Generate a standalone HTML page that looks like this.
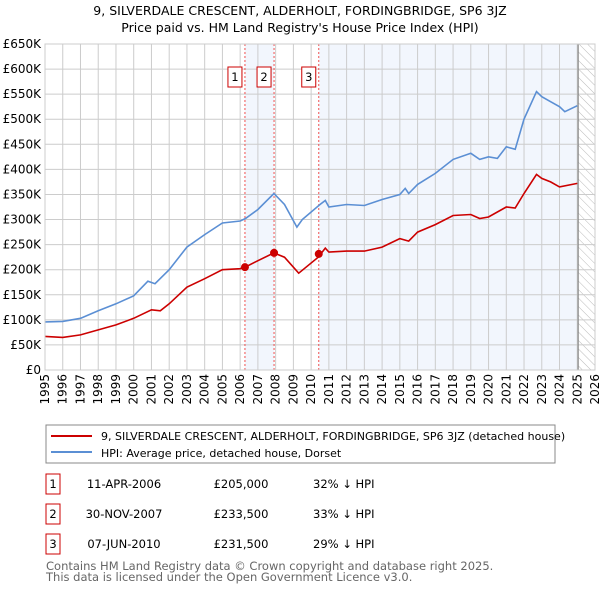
<!DOCTYPE html>
<html><head><meta charset="utf-8"><style>
body{margin:0;background:#fff;font-family:"Liberation Sans","DejaVu Sans",sans-serif;}
</style></head><body>
<svg width="600" height="590" viewBox="0 0 600 590" xmlns="http://www.w3.org/2000/svg" font-family="DejaVu Sans, Liberation Sans, sans-serif">
<text x="300" y="15" text-anchor="middle" font-size="12.5">9, SILVERDALE CRESCENT, ALDERHOLT, FORDINGBRIDGE, SP6 3JZ</text>
<text x="300" y="32" text-anchor="middle" font-size="12.5">Price paid vs. HM Land Registry's House Price Index (HPI)</text>
<g id="plot"></g>
<g>
<rect x="46" y="425" width="509" height="38" fill="#fff" stroke="#888"/>
<line x1="51" y1="436" x2="92" y2="436" stroke="#cc0000" stroke-width="2"/>
<text x="101" y="440" font-size="11">9, SILVERDALE CRESCENT, ALDERHOLT, FORDINGBRIDGE, SP6 3JZ (detached house)</text>
<line x1="51" y1="452" x2="92" y2="452" stroke="#5b8fd4" stroke-width="2"/>
<text x="101" y="457" font-size="11">HPI: Average price, detached house, Dorset</text>
</g>
<g font-size="11.5">
<rect x="46" y="474" width="14" height="20" fill="#fff" stroke="#cc0000"/><text x="53" y="488" text-anchor="middle">1</text>
<text x="124" y="488" text-anchor="middle">11-APR-2006</text><text x="241" y="488" text-anchor="middle">£205,000</text><text x="313" y="488">32% ↓ HPI</text>
<rect x="46" y="504" width="14" height="20" fill="#fff" stroke="#cc0000"/><text x="53" y="518" text-anchor="middle">2</text>
<text x="124" y="518" text-anchor="middle">30-NOV-2007</text><text x="241" y="518" text-anchor="middle">£233,500</text><text x="313" y="518">33% ↓ HPI</text>
<rect x="46" y="534" width="14" height="20" fill="#fff" stroke="#cc0000"/><text x="53" y="548" text-anchor="middle">3</text>
<text x="124" y="548" text-anchor="middle">07-JUN-2010</text><text x="241" y="548" text-anchor="middle">£231,500</text><text x="313" y="548">29% ↓ HPI</text>
</g>
<text x="46" y="570" font-size="11.5" fill="#666">Contains HM Land Registry data © Crown copyright and database right 2025.</text>
<text x="46" y="581" font-size="11.5" fill="#666">This data is licensed under the Open Government Licence v3.0.</text>
</svg>
<script>
const hpiYears=[1995,1996,1997,1998,1999,2000,2000.8,2001.2,2002,2003,2004,2005,2006,2006.3,2007,2007.9,2008.5,2009.2,2009.5,2010.5,2010.8,2011,2012,2013,2014,2015,2015.3,2015.5,2016,2017,2018,2019,2019.5,2020,2020.5,2021,2021.5,2022,2022.7,2023,2023.5,2024,2024.3,2025];
const hpiValues=[96,97,103,118,132,148,177,172,200,245,270,293,297,302,320,352,330,285,300,330,338,325,330,328,340,350,362,352,370,392,420,432,420,425,422,445,440,500,555,545,535,525,515,527];
const ppYears=[1995,1996,1997,1998,1999,2000,2001,2001.5,2002,2003,2004,2005,2006,2006.27,2007,2007.9,2008.5,2009.3,2010.4,2010.8,2011,2012,2013,2014,2015,2015.5,2016,2017,2018,2019,2019.5,2020,2021,2021.5,2022,2022.7,2023,2023.5,2024,2025];
const ppValues=[67,65,70,80,90,103,120,118,132,165,182,200,202,205,218,233.5,225,193,225,243,235,237,237,245,262,257,275,290,308,310,302,305,325,323,352,390,382,375,365,372];
const saleLabels=["1","2","3"];
const saleYears=[2006.27,2007.91,2010.43];
const saleValues=[205,233.5,231.5];
const yTicks=[0,50,100,150,200,250,300,350,400,450,500,550,600,650];
const yTickLabels=["£0","£50K","£100K","£150K","£200K","£250K","£300K","£350K","£400K","£450K","£500K","£550K","£600K","£650K"];
const xTicks=[1995,1996,1997,1998,1999,2000,2001,2002,2003,2004,2005,2006,2007,2008,2009,2010,2011,2012,2013,2014,2015,2016,2017,2018,2019,2020,2021,2022,2023,2024,2025,2026];
const dataEnd=2025.05;

const L=45,R=595,T=44,B=370,NS="http://www.w3.org/2000/svg";
const X=y=>L+(y-1995)/(2026-1995)*(R-L);
const Y=v=>B-v/650*(B-T);
const g=document.getElementById('plot');
function el(t,a,p){const e=document.createElementNS(NS,t);for(const k in a)e.setAttribute(k,a[k]);(p||g).appendChild(e);return e;}
const defs=el('defs',{});
const pat=el('pattern',{id:'hatch',width:6,height:6,patternUnits:'userSpaceOnUse',patternTransform:'rotate(-45)'},defs);
el('line',{x1:0,y1:0,x2:0,y2:6,stroke:'#bbb','stroke-width':1},pat);
let s=el('rect',{x:X(saleYears[0]),y:T,width:X(saleYears[1])-X(saleYears[0]),height:B-T,fill:'#f2f6fd'});

s=el('rect',{x:X(saleYears[2]),y:T,width:X(dataEnd)-X(saleYears[2]),height:B-T,fill:'#f2f6fd'});

s=el('rect',{x:X(dataEnd),y:T,width:R-X(dataEnd),height:B-T,fill:'url(#hatch)'});

yTicks.forEach((v,i)=>{el('line',{x1:L,x2:R,y1:Y(v),y2:Y(v),stroke:'#ccc'});
 const t=el('text',{x:L-4,y:Y(v)+4,'text-anchor':'end','font-size':12});t.textContent=yTickLabels[i];
 });
xTicks.forEach(v=>{el('line',{x1:X(v),x2:X(v),y1:T,y2:B,stroke:'#ccc'});
 const t=el('text',{x:X(v)+4,y:B+4,'text-anchor':'end','font-size':12,transform:`rotate(-90 ${X(v)+4} ${B+4})`});t.textContent=v;
 });
el('line',{x1:X(dataEnd),x2:X(dataEnd),y1:T,y2:B,stroke:'#888','stroke-width':1.2});
saleYears.forEach((yr,i)=>{el('line',{x1:X(yr),x2:X(yr),y1:T,y2:B,stroke:'#f05050','stroke-dasharray':'2,2'});
 const r=el('rect',{x:X(yr)-17,y:67,width:14,height:20,fill:'#fff',stroke:'#cc0000'});
 
 const t=el('text',{x:X(yr)-10,y:81,'text-anchor':'middle','font-size':11.5});t.textContent=saleLabels[i];});
function line(xs,vs,c,n){const p=el('path',{d:xs.map((x,i)=>(i?'L':'M')+X(x).toFixed(1)+','+Y(vs[i]).toFixed(1)).join(''),fill:'none',stroke:c,'stroke-width':1.6});
 }
line(hpiYears,hpiValues,'#5b8fd4','hpi-line');
line(ppYears,ppValues,'#cc0000','price-paid-line');
saleYears.forEach((yr,i)=>{const c=el('circle',{cx:X(yr),cy:Y(saleValues[i]),r:4,fill:'#cc0000'});
 });
el('rect',{x:L,y:T,width:R-L,height:B-T,fill:'none',stroke:'#ccc'});
</script>
</body></html>
